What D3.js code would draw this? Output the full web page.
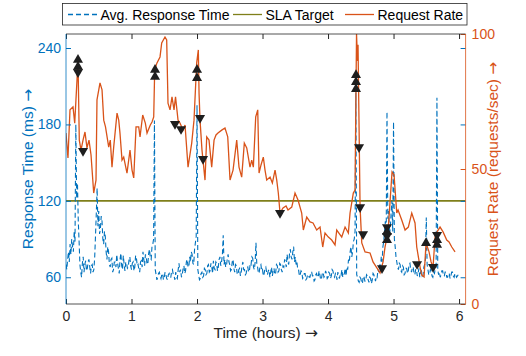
<!DOCTYPE html>
<html>
<head>
<meta charset="utf-8">
<script src="https://cdn.jsdelivr.net/npm/d3@7/dist/d3.min.js"></script>
<style>
  body { margin: 0; background: #fff; }
  text { font-family: "Liberation Sans", Arial, sans-serif; }
  tspan.arrow { font-family: "DejaVu Sans", sans-serif; }
</style>
</head>
<body>
<svg id="chart" width="526" height="356"></svg>
<script>
// ---- data ----
const hourTicks = [0, 1, 2, 3, 4, 5, 6];
const rtTicks = [60, 120, 180, 240];
const rateTicks = [0, 50, 100];
const slaTarget = 120;

// avg response time (ms), one value every 0.0125 h (one row = half an hour)
const rtStep = 0.0125;
const responseTime = [
  70,66, 74,80, 72,86, 78,90, 84,80, 96,88, 180,122, 134,104, 88,70, 64,60, 71,76, 64,70, 73,65, 67,72, 74,68, 63,69, 70,64, 66,75, 92,110, 130,100,
  112,94, 98,108, 104,90, 86,96, 92,80, 74,84, 80,70, 68,74, 75,64, 66,72, 72,68, 78,71, 67,63, 74,79, 69,66, 77,70, 65,72, 71,67, 68,74, 76,69,
  66,71, 72,65, 68,77, 75,69, 70,66, 64,72, 73,68, 80,74, 69,78, 76,70, 71,79, 82,75, 74,84, 86,90, 183,66, 62,58, 60,63, 64,61, 59,62, 63,58,
  60,64, 62,59, 58,62, 63,60, 60,65, 66,62, 61,58, 64,60, 59,66, 71,64, 66,60, 62,67, 69,63, 65,72, 74,68, 68,76, 72,80, 78,71, 70,82, 87,92,
  195,66, 62,58, 59,63, 64,60, 61,67, 66,62, 63,69, 70,64, 65,71, 68,63, 73,67, 66,72, 71,65, 68,74, 76,69, 72,78, 93,70, 74,68, 69,75, 78,72,
  70,65, 66,72, 74,67, 64,70, 69,63, 62,66, 67,61, 64,69, 72,66, 66,62, 63,67, 68,64, 65,71, 70,76, 75,68, 66,72, 87,70, 68,63, 64,69, 70,65,
  66,61, 63,67, 68,64, 62,65, 66,60, 64,68, 61,65, 67,62, 63,70, 69,64, 65,71, 70,66, 64,69, 68,74, 72,68, 78,72, 70,79, 82,76, 74,80, 84,72,
  76,70, 72,66, 66,61, 62,65, 64,59, 60,63, 63,58, 59,62, 62,60, 60,64, 64,61, 61,57, 58,62, 63,60, 60,65, 62,58, 59,63, 64,60, 61,65, 63,59,
  60,64, 63,59, 61,66, 65,61, 60,63, 62,58, 64,61, 59,63, 62,66, 60,62, 63,67, 61,68, 66,74, 72,80, 84,76, 80,88, 90,96, 205,62, 60,57, 56,60,
  59,56, 55,61, 60,57, 57,62, 61,58, 56,60, 59,55, 58,63, 62,59, 57,61, 60,66, 64,70, 66,76, 72,84, 88,96, 104,92, 190,106, 112,94, 98,110, 120,96,
  182,90, 84,76, 72,68, 66,71, 70,65, 64,69, 68,62, 63,67, 67,63, 65,70, 71,66, 64,68, 68,63, 62,66, 66,61, 63,67, 60,64, 65,61, 62,68, 70,74,
  107,70, 66,62, 62,66, 65,61, 60,64, 63,67, 68,201, 66,62, 64,60, 62,65, 65,61, 61,64, 64,60, 60,63, 63,59, 61,64, 64,61, 60,63, 62,60, 61,62
];

// request rate (requests/sec)
const rateTime = [
  0, 0.03, 0.061, 0.107, 0.133, 0.168, 0.183, 0.203, 0.229, 0.26,
  0.29, 0.32, 0.351, 0.382, 0.423, 0.458, 0.473, 0.519, 0.55, 0.576,
  0.603, 0.652, 0.676, 0.702, 0.728, 0.779, 0.805, 0.824, 0.855, 0.881,
  0.931, 0.977, 1.008, 1.034, 1.069, 1.11, 1.13, 1.171, 1.211, 1.237,
  1.287, 1.313, 1.339, 1.354, 1.389, 1.435, 1.461, 1.511, 1.537, 1.557,
  1.588, 1.618, 1.649, 1.672, 1.71, 1.74, 1.786, 1.817, 1.863, 1.919,
  1.954, 1.995, 2.02, 2.031, 2.046, 2.076, 2.099, 2.122, 2.148, 2.183,
  2.224, 2.26, 2.29, 2.32, 2.377, 2.427, 2.469, 2.504, 2.55, 2.606,
  2.641, 2.682, 2.722, 2.759, 2.809, 2.835, 2.86, 2.896, 2.927, 2.947,
  2.977, 3.012, 3.038, 3.064, 3.115, 3.15, 3.191, 3.217, 3.241, 3.267,
  3.313, 3.359, 3.389, 3.446, 3.496, 3.542, 3.598, 3.623, 3.675, 3.725,
  3.771, 3.827, 3.878, 3.919, 3.954, 4.005, 4.056, 4.107, 4.133, 4.209,
  4.26, 4.31, 4.336, 4.386, 4.412, 4.435, 4.45, 4.458, 4.489, 4.515,
  4.565, 4.641, 4.687, 4.748, 4.794, 4.84, 4.87, 4.916, 4.977, 5.008,
  5.049, 5.069, 5.125, 5.176, 5.226, 5.278, 5.328, 5.354, 5.405, 5.431,
  5.466, 5.496, 5.542, 5.573, 5.603, 5.634, 5.664, 5.71, 5.756, 5.812,
  5.847, 5.889, 5.939
];
const requestRate = [
  63.3, 54.1, 71.9, 73, 67, 83, 90.4, 60.7, 57, 60.7,
  63.7, 57.8, 60.7, 55.2, 41.1, 45.9, 75.6, 81.9, 79.3, 68.1,
  65.6, 58.1, 60.7, 50.7, 58.1, 70.7, 68.1, 63.3, 53.3, 54.4,
  48.5, 57, 49.6, 46.7, 65.6, 65.6, 61.9, 70, 67, 63.3,
  66.3, 67.4, 69.3, 86.7, 89.3, 91.5, 96.7, 98.9, 97.8, 74.4,
  71.9, 76.7, 71.9, 76.7, 68.1, 67, 64.4, 66.3, 50.7, 59.6,
  68.1, 89.3, 94.1, 78.1, 68.1, 57, 51.5, 45.9, 61.9, 60.7,
  50.7, 60.7, 62.6, 63.3, 64.4, 65.2, 61.9, 45.9, 49.6, 60.7,
  50.7, 47, 59.6, 57.8, 50.7, 53.3, 50.7, 69.3, 71.9, 48.5,
  51.5, 54.4, 49.6, 45.9, 47, 44.8, 49.6, 45.9, 41.1, 33.7,
  35.6, 36.3, 34.8, 35.9, 41.1, 38.5, 33.7, 27.4, 32.2, 30.4,
  30, 27.4, 28.5, 21.1, 26.3, 24.8, 23.7, 21.9, 27.4, 24.8,
  28.5, 26.3, 33.7, 41.1, 42.2, 100, 90, 96, 35.9, 22.6,
  19.3, 18.9, 15.6, 13.3, 11.5, 15.6, 21.1, 26.7, 48.9, 47.8,
  33.7, 34.8, 31.1, 27.4, 28.5, 33.7, 30, 21.1, 13.7, 10.7,
  10, 22.6, 19.3, 15.6, 13.7, 24.8, 26.7, 28.5, 26.7, 23.7,
  23, 21.1, 19.3
];

// change-point markers on the request rate
const upTime = [0.183, 0.183, 1.359, 1.359, 2.0, 2.0, 4.427, 4.427, 4.427, 4.9, 4.9, 5.496, 5.664, 5.664];
const upRate = [90.4, 87.8, 86.7, 84.1, 86.7, 83.7, 84.8, 82.2, 79.6, 26.7, 23.7, 22.6, 23.7, 21.9];
const downTime = [0.183, 0.26, 1.664, 1.756, 2.046, 2.092, 3.267, 4.473, 4.489, 4.534, 4.824, 4.9, 4.9, 5.359, 5.603, 5.664];
const downRate = [85.9, 56.7, 66.7, 64.8, 68.9, 53.7, 33.7, 58.1, 35.9, 25.9, 13.3, 28.5, 25.2, 14.8, 13.7, 25.6];

// ---- drawing ----
const blue = '#0072BD', red = '#D95319', olive = '#7F7F1A', ink = '#262626';
const plotL = 66, plotR = 465.6, plotT = 34, plotB = 304;

const svg = d3.select('#chart');

const x = d3.scaleLinear().domain([0, 6.1]).range([plotL, plotR]);
const yL = d3.scaleLinear().domain([39, 251]).range([plotB, plotT]);
const yR = d3.scaleLinear().domain([0, 100]).range([plotB, plotT]);

svg.append('defs').append('clipPath').attr('id', 'plot')
  .append('rect').attr('x', plotL).attr('y', plotT)
  .attr('width', plotR - plotL).attr('height', plotB - plotT);

const plot = svg.append('g').attr('clip-path', 'url(#plot)');

plot.append('line')
  .attr('x1', plotL).attr('x2', plotR)
  .attr('y1', yL(slaTarget)).attr('y2', yL(slaTarget))
  .attr('stroke', olive).attr('stroke-width', 1.6);

const rtLine = d3.line()
  .x((d, i) => x(i * rtStep))
  .y(d => yL(d));

plot.append('path')
  .datum(responseTime)
  .attr('fill', 'none')
  .attr('stroke', blue)
  .attr('stroke-width', 1.1)
  .attr('stroke-dasharray', '5,3')
  .attr('d', rtLine);

const rateLine = d3.line()
  .x(d => x(d[0]))
  .y(d => yR(d[1]));

plot.append('path')
  .datum(d3.zip(rateTime, requestRate))
  .attr('fill', 'none')
  .attr('stroke', red)
  .attr('stroke-width', 1.3)
  .attr('d', rateLine);

const tri = d3.symbol(d3.symbolTriangle, 44);
const markers = svg.append('g').attr('fill', '#1e1e1e');
markers.selectAll('path.up')
  .data(d3.zip(upTime, upRate))
  .enter().append('path')
  .attr('class', 'up')
  .attr('d', tri)
  .attr('transform', d => 'translate(' + x(d[0]) + ',' + yR(d[1]) + ')');
markers.selectAll('path.down')
  .data(d3.zip(downTime, downRate))
  .enter().append('path')
  .attr('class', 'down')
  .attr('d', tri)
  .attr('transform', d => 'translate(' + x(d[0]) + ',' + yR(d[1]) + ') rotate(180)');

// axes
function styleAxis(g, color) {
  g.select('.domain').remove();
  g.selectAll('line').attr('stroke', color);
  g.selectAll('text').attr('fill', color).style('font-size', '14px');
}

svg.append('g')
  .attr('transform', 'translate(0,' + plotB + ')')
  .call(d3.axisBottom(x).tickValues(hourTicks).tickFormat(d3.format('d'))
    .tickSizeInner(-5).tickSizeOuter(0).tickPadding(7))
  .call(g => styleAxis(g, ink));

svg.append('g')
  .attr('transform', 'translate(0,' + plotT + ')')
  .call(d3.axisTop(x).tickValues(hourTicks).tickFormat('')
    .tickSizeInner(-5).tickSizeOuter(0))
  .call(g => styleAxis(g, ink));

svg.append('g')
  .attr('transform', 'translate(' + plotL + ',0)')
  .call(d3.axisLeft(yL).tickValues(rtTicks)
    .tickSizeInner(-5).tickSizeOuter(0).tickPadding(5))
  .call(g => styleAxis(g, blue));

svg.append('g')
  .attr('transform', 'translate(' + plotR + ',0)')
  .call(d3.axisLeft(yL).tickValues(rtTicks).tickFormat('')
    .tickSizeInner(5).tickSizeOuter(0))
  .call(g => styleAxis(g, blue));

svg.append('g')
  .attr('transform', 'translate(' + plotR + ',0)')
  .call(d3.axisRight(yR).tickValues(rateTicks)
    .tickSizeInner(-5).tickSizeOuter(0).tickPadding(6))
  .call(g => styleAxis(g, red));

// box lines
svg.append('line').attr('x1', plotL).attr('x2', plotR).attr('y1', plotT).attr('y2', plotT)
  .attr('stroke', ink).attr('stroke-width', 0.8);
svg.append('line').attr('x1', plotL).attr('x2', plotR).attr('y1', plotB).attr('y2', plotB)
  .attr('stroke', ink).attr('stroke-width', 0.8);
svg.append('line').attr('x1', plotL).attr('x2', plotL).attr('y1', plotT).attr('y2', plotB)
  .attr('stroke', blue).attr('stroke-width', 0.8);
svg.append('line').attr('x1', plotR).attr('x2', plotR).attr('y1', plotT).attr('y2', plotB)
  .attr('stroke', red).attr('stroke-width', 0.8);

// axis titles (arrow drawn from DejaVu for a longer glyph)
function title(sel, label) {
  sel.append('tspan').text(label + ' ');
  sel.append('tspan').attr('class', 'arrow').text('\u2192');
}

svg.append('text')
  .attr('x', (plotL + plotR) / 2).attr('y', 338)
  .attr('text-anchor', 'middle').attr('fill', ink).style('font-size', '15.5px')
  .call(t => title(t, 'Time (hours)'));

svg.append('text')
  .attr('transform', 'translate(33,' + (plotT + plotB) / 2 + ') rotate(-90)')
  .attr('text-anchor', 'middle').attr('fill', blue).style('font-size', '15.5px')
  .call(t => title(t, 'Response Time (ms)'));

svg.append('text')
  .attr('transform', 'translate(498,' + (plotT + plotB) / 2 + ') rotate(-90)')
  .attr('text-anchor', 'middle').attr('fill', red).style('font-size', '15.5px')
  .call(t => title(t, 'Request Rate (requests/sec)'));

// legend
const legend = svg.append('g');
legend.append('rect')
  .attr('x', 62.5).attr('y', 3.5).attr('width', 404.5).attr('height', 21.5)
  .attr('fill', '#fff').attr('stroke', ink).attr('stroke-width', 0.8);

const legendItems = [
  { label: 'Avg. Response Time', color: blue, dash: '5,3', x0: 68 },
  { label: 'SLA Target', color: olive, dash: null, x0: 233 },
  { label: 'Request Rate', color: red, dash: null, x0: 345 }
];
legendItems.forEach(it => {
  legend.append('line')
    .attr('x1', it.x0).attr('x2', it.x0 + 29).attr('y1', 14.5).attr('y2', 14.5)
    .attr('stroke', it.color).attr('stroke-width', 1.3)
    .attr('stroke-dasharray', it.dash);
  legend.append('text')
    .attr('x', it.x0 + 32.5).attr('y', 19.5)
    .attr('fill', '#000').style('font-size', '14px')
    .text(it.label);
});
</script>
</body>
</html>
